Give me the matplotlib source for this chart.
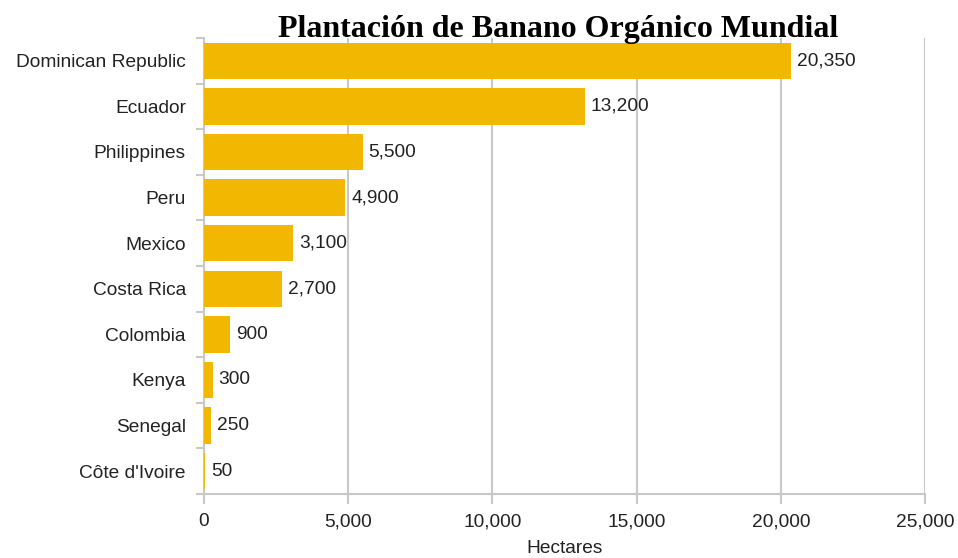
import numpy as np
import matplotlib.pyplot as plt

# Organic banana area by country (hectares)
countries = ["Dominican Republic", "Ecuador", "Philippines", "Peru", "Mexico",
             "Costa Rica", "Colombia", "Kenya", "Senegal", "Côte d'Ivoire"]
hectares = [20350, 13200, 5500, 4900, 3100, 2700, 900, 300, 250, 50]
x_ticks = [0, 5000, 10000, 15000, 20000, 25000]

bar_color = "#F2B700"
grid_color = "#c8c8c8"
text_color = "#222222"
fs = 13.8

fig = plt.figure(figsize=(9.58, 5.58), dpi=100)
ax = fig.add_axes([0.2129, 0.1147, 0.7526, 0.8172])

y = np.arange(len(countries))
ax.barh(y, hectares, height=0.8, color=bar_color, zorder=3)

for yi, v in zip(y, hectares):
    ax.text(v + 200, yi, f"{v:,}", va="center", ha="left",
            fontsize=fs, color=text_color, family="Liberation Sans")

ax.set_xlim(0, 25000)
ax.set_ylim(len(countries) - 0.5, -0.5)

ax.set_yticks(y)
ax.set_yticklabels(countries, fontsize=fs, color=text_color, family="Liberation Sans")
ax.set_yticks(np.arange(len(countries) + 1) - 0.5, minor=True)
ax.tick_params(axis="y", which="major", length=0, pad=13)
ax.tick_params(axis="y", which="minor", length=6, color=grid_color, width=1.5)

ax.set_xticks(x_ticks)
ax.set_xticklabels([f"{t:,}" for t in x_ticks], fontsize=fs, color=text_color,
                   family="Liberation Sans")
ax.tick_params(axis="x", length=7, color=grid_color, width=1.5, pad=7)

ax.grid(axis="x", color=grid_color, linewidth=1.5, zorder=0)
for s in ["top", "right"]:
    ax.spines[s].set_visible(False)
for s in ["left", "bottom"]:
    ax.spines[s].set_color(grid_color)
    ax.spines[s].set_linewidth(1.5)

ax.set_xlabel("Hectares", fontsize=fs, color=text_color, family="Liberation Sans",
              labelpad=7)

fig.text(0.583, 0.947, "Plantación de Banano Orgánico Mundial", ha="center",
         va="center", fontsize=23, fontweight="bold", family="Liberation Serif")

fig.savefig("out.png", dpi=100)
